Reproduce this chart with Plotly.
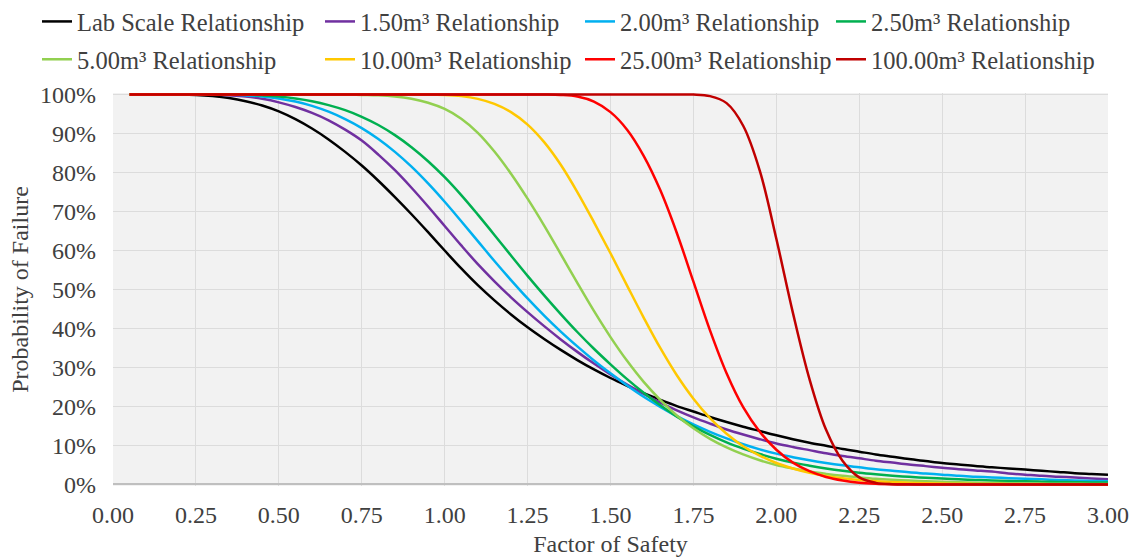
import plotly.graph_objects as go

# Factor of safety sample points (shared by every curve)
fos = [0.05, 0.10, 0.15, 0.20, 0.25, 0.30, 0.35, 0.40, 0.45, 0.50,
       0.55, 0.60, 0.65, 0.70, 0.75, 0.80, 0.85, 0.90, 0.95, 1.00,
       1.05, 1.10, 1.15, 1.20, 1.25, 1.30, 1.35, 1.40, 1.45, 1.50,
       1.55, 1.60, 1.65, 1.70, 1.75, 1.80, 1.85, 1.90, 1.95, 2.00,
       2.05, 2.10, 2.15, 2.20, 2.25, 2.30, 2.35, 2.40, 2.45, 2.50,
       2.55, 2.60, 2.65, 2.70, 2.75, 2.80, 2.85, 2.90, 2.95, 3.00]

# Probability of failure (%) for each relationship
pf_lab = [100, 100, 100, 100, 99.9, 99.6, 99.1, 98.3, 97.2, 95.7,
          93.7, 91.3, 88.5, 85.3, 81.8, 77.9, 73.7, 69.3, 64.7, 60.0,
          55.4, 51.1, 47.2, 43.6, 40.3, 37.3, 34.5, 31.9, 29.5, 27.3,
          25.3, 23.4, 21.7, 20.1, 18.7, 17.3, 16.0, 14.8, 13.7, 12.6,
          11.6, 10.7, 9.9, 9.1, 8.4, 7.7, 7.1, 6.5, 6.0, 5.5,
          5.1, 4.7, 4.4, 4.1, 3.8, 3.5, 3.2, 2.9, 2.7, 2.5]

pf_150 = [100, 100, 100, 100, 100, 100, 99.8, 99.5, 98.9, 98.0,
          96.8, 95.3, 93.4, 91.0, 88.2, 84.6, 80.6, 76.1, 71.3, 66.3,
          61.3, 56.5, 52.1, 48.0, 44.2, 40.6, 37.2, 34.0, 31.0, 28.2,
          25.6, 23.2, 21.0, 19.0, 17.2, 15.6, 14.1, 12.8, 11.6, 10.5,
          9.6, 8.8, 8.0, 7.3, 6.7, 6.1, 5.6, 5.1, 4.7, 4.3,
          3.9, 3.6, 3.3, 2.8, 2.5, 2.2, 2.0, 1.8, 1.55, 1.35]

pf_200 = [100, 100, 100, 100, 100, 100, 100, 99.8, 99.5, 99.0,
          98.2, 97.1, 95.6, 93.7, 91.4, 88.6, 85.3, 81.5, 77.2, 72.5,
          67.5, 62.4, 57.3, 52.4, 47.7, 43.3, 39.2, 35.4, 31.8, 28.5,
          25.4, 22.5, 19.9, 17.5, 15.4, 13.5, 11.8, 10.3, 9.0, 7.9,
          7.0, 6.2, 5.5, 4.9, 4.4, 3.9, 3.5, 3.1, 2.8, 2.5,
          2.2, 2.0, 1.8, 1.6, 1.45, 1.3, 1.15, 1.0, 0.9, 0.8]

pf_250 = [100, 100, 100, 100, 100, 100, 100, 100, 99.8, 99.5,
          99.0, 98.3, 97.3, 96.0, 94.3, 92.2, 89.6, 86.5, 82.9, 78.8,
          74.2, 69.2, 64.0, 58.7, 53.5, 48.5, 43.7, 39.1, 34.8, 30.8,
          27.0, 23.5, 20.3, 17.4, 14.9, 12.7, 10.8, 9.2, 7.8, 6.6,
          5.6, 4.8, 4.1, 3.5, 3.0, 2.6, 2.25, 1.95, 1.7, 1.5,
          1.3, 1.15, 1.0, 0.9, 0.8, 0.72, 0.65, 0.58, 0.52, 0.47]

pf_500 = [100, 100, 100, 100, 100, 100, 100, 100, 100, 100,
          100, 100, 100, 100, 99.9, 99.8, 99.5, 98.9, 97.9, 96.3,
          93.8, 90.2, 85.4, 79.7, 73.3, 66.4, 59.1, 51.7, 44.5, 37.8,
          31.7, 26.3, 21.7, 17.7, 14.4, 11.7, 9.5, 7.7, 6.2, 5.0,
          4.1, 3.3, 2.7, 2.2, 1.8, 1.45, 1.2, 1.0, 0.8, 0.66,
          0.55, 0.45, 0.38, 0.32, 0.27, 0.22, 0.19, 0.16, 0.13, 0.11]

pf_1000 = [100, 100, 100, 100, 100, 100, 100, 100, 100, 100,
           100, 100, 100, 100, 100, 100, 100, 100, 100, 99.9,
           99.6, 98.9, 97.6, 95.5, 92.3, 87.8, 82.0, 75.0, 67.3, 59.3,
           51.0, 42.8, 35.0, 28.0, 22.0, 17.0, 13.0, 9.8, 7.4, 5.5,
           4.1, 3.0, 2.2, 1.6, 1.15, 0.85, 0.6, 0.45, 0.33, 0.24,
           0.18, 0.13, 0.1, 0.07, 0.05, 0.04, 0.03, 0.02, 0.015, 0.01]

pf_2500 = [100, 100, 100, 100, 100, 100, 100, 100, 100, 100,
           100, 100, 100, 100, 100, 100, 100, 100, 100, 100,
           100, 100, 100, 100, 100, 100, 99.9, 99.5, 98.2, 95.5,
           91.0, 84.3, 75.5, 64.5, 52.0, 39.5, 28.5, 19.8, 13.5, 8.9,
           5.6, 3.4, 1.9, 1.0, 0.45, 0.18, 0.06, 0.02, 0, 0,
           0, 0, 0, 0, 0, 0, 0, 0, 0, 0]

pf_10000 = [100, 100, 100, 100, 100, 100, 100, 100, 100, 100,
            100, 100, 100, 100, 100, 100, 100, 100, 100, 100,
            100, 100, 100, 100, 100, 100, 100, 100, 100, 100,
            100, 100, 100, 100, 100, 99.6, 97.8, 92.0, 80.5, 63.0,
            44.0, 27.0, 14.0, 6.0, 1.8, 0.4, 0.05, 0, 0, 0,
            0, 0, 0, 0, 0, 0, 0, 0, 0, 0]

series_names = ["Lab Scale Relationship", "1.50m³ Relationship", "2.00m³ Relationship",
                "2.50m³ Relationship", "5.00m³ Relationship", "10.00m³ Relationship",
                "25.00m³ Relationship", "100.00m³ Relationship"]
series_values = [pf_lab, pf_150, pf_200, pf_250, pf_500, pf_1000, pf_2500, pf_10000]
series_colors = ["#000000", "#7030A0", "#00B0F0", "#00B050",
                 "#92D050", "#FFC800", "#FF0000", "#C00000"]
# legend column for each series (4 columns x 2 rows)
series_legend = ["legend", "legend2", "legend3", "legend4",
                 "legend", "legend2", "legend3", "legend4"]

for vals in series_values:
    assert len(vals) == len(fos)

FONT = "Liberation Serif, Times New Roman, serif"
TXT = "#404040"
FS = 24
LEG_FS = 24.5

fig = go.Figure()
for name, vals, color, lg in zip(series_names, series_values, series_colors, series_legend):
    fig.add_trace(go.Scatter(
        x=fos, y=vals, name=name, mode="lines",
        line=dict(color=color, width=2.5, shape="spline", smoothing=1.0),
        legend=lg, legendgroup=name,
        hovertemplate="%{x:.2f}: %{y:.1f}%<extra>" + name + "</extra>",
    ))

L, R, T, B = 113, 26, 93, 72
W, H = 1134, 558
pw, ph = W - L - R, H - T - B


def px_to_paper_x(px):
    return (px - L) / pw


def legend_cfg(text_left_px):
    return dict(
        orientation="v", x=px_to_paper_x(text_left_px - 40), xanchor="left",
        y=1 + (T + 1) / ph, yanchor="top",
        font=dict(family=FONT, size=LEG_FS, color=TXT),
        bgcolor="rgba(0,0,0,0)", borderwidth=0,
        tracegroupgap=3, itemwidth=30,
    )


fig.update_layout(
    width=W, height=H,
    margin=dict(l=L, r=R, t=T, b=B, pad=0, autoexpand=False),
    paper_bgcolor="white", plot_bgcolor="#F2F2F2",
    font=dict(family=FONT, size=FS, color=TXT),
    showlegend=True,
    legend=legend_cfg(77),
    legend2=legend_cfg(360),
    legend3=legend_cfg(620),
    legend4=legend_cfg(871),
)

fig.update_xaxes(
    range=[0, 3], tick0=0, dtick=0.25, tickformat=".2f",
    showgrid=True, gridcolor="#DCDCDC", gridwidth=1,
    zeroline=False, showline=False, ticks="",
    tickfont=dict(family=FONT, size=FS, color=TXT),
    ticklabelstandoff=12,
    title=dict(text="Factor of Safety", font=dict(family=FONT, size=FS, color=TXT), standoff=8),
)
fig.update_yaxes(
    range=[-0.4, 100.4], tick0=0, dtick=10, ticksuffix="%",
    showgrid=True, gridcolor="#DCDCDC", gridwidth=1,
    zeroline=True, zerolinecolor="#BFBFBF", zerolinewidth=1.5,
    showline=False, ticks="",
    tickfont=dict(family=FONT, size=FS, color=TXT),
    ticklabelstandoff=16,
    title=dict(text="Probability of Failure", font=dict(family=FONT, size=FS, color=TXT), standoff=4),
)

fig.write_html("out.html")
